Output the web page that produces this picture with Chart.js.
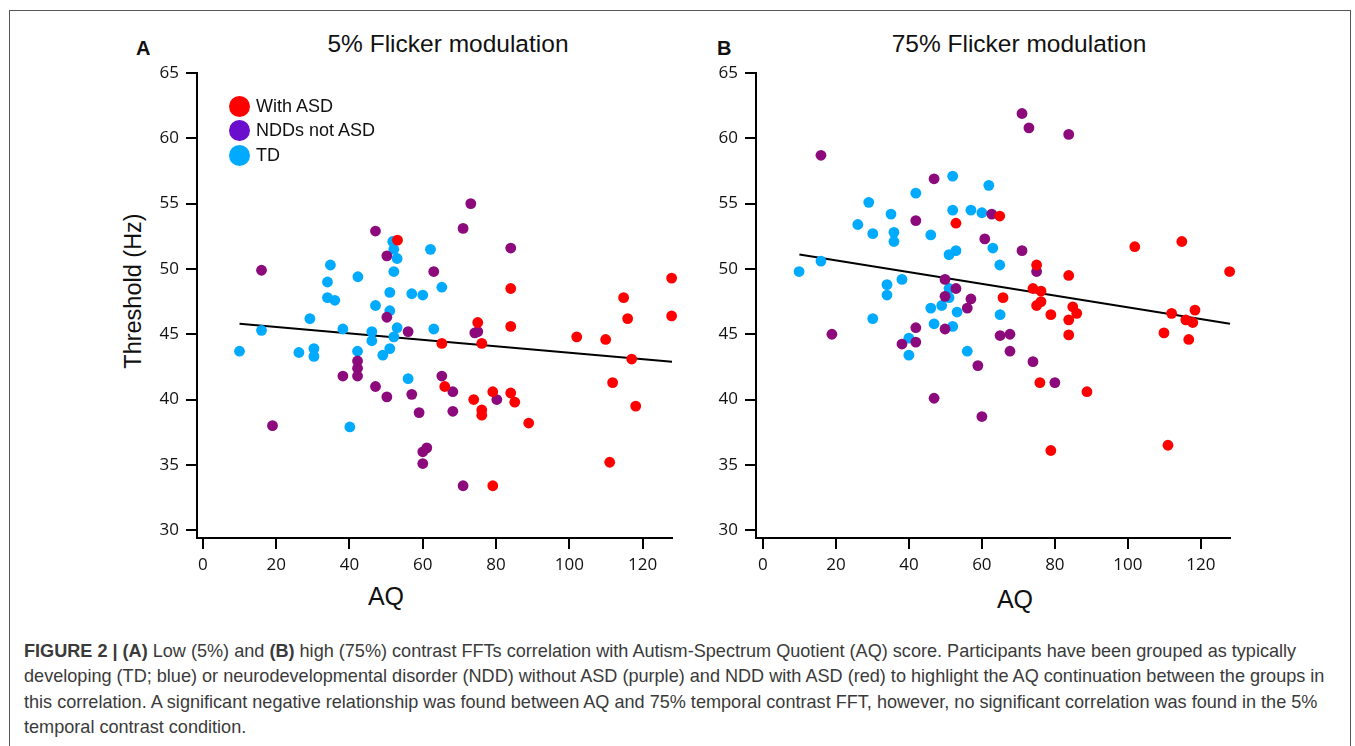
<!DOCTYPE html>
<html>
<head>
<meta charset="utf-8">
<script src="https://cdn.jsdelivr.net/npm/chart.js@4.4.1/dist/chart.umd.min.js"></script>
<style>
  body { margin: 0; width: 1355px; height: 746px; overflow: hidden; background: #fff; font-family: "Liberation Sans", Arial, sans-serif; }
  .frame { position: absolute; left: 9px; top: 10px; width: 1340px; height: 800px; border: 1px solid #555; }
  .box { position: absolute; width: 600px; height: 600px; }
  .txt { position: absolute; color: #111; white-space: nowrap; }
  .title { font-size: 24.5px; transform: translateX(-50%); }
  .letter { font-size: 20px; font-weight: bold; }
  .xtitle { font-size: 25px; transform: translateX(-50%); }
  .ytitle { font-size: 23.5px; transform: translate(-50%, -50%) rotate(-90deg); }
  .legend { position: absolute; left: 229px; top: 94px; font-size: 18px; color: #111; }
  .legend div { height: 24.5px; display: flex; align-items: center; }
  .legend span { display: inline-block; width: 21px; height: 21px; border-radius: 50%; margin-right: 6px; }
  .caption { position: absolute; left: 24px; top: 639px; font-size: 18.1px; line-height: 25.3px; color: #3a3a3a; white-space: nowrap; }
</style>
</head>
<body>
<div class="frame"></div>

<div class="txt letter" style="left:136px; top:37px;">A</div>
<div class="txt letter" style="left:717px; top:37px;">B</div>
<div class="txt title" style="left:448px; top:30px;">5% Flicker modulation</div>
<div class="txt title" style="left:1019px; top:30px;">75% Flicker modulation</div>
<div class="txt ytitle" style="left:133px; top:291px;">Threshold (Hz)</div>
<div class="txt xtitle" style="left:386px; top:582px;">AQ</div>
<div class="txt xtitle" style="left:1015px; top:585px;">AQ</div>

<div class="box" style="left:100px; top:20px;"><canvas id="chartA"></canvas></div>
<div class="box" style="left:660px; top:20px;"><canvas id="chartB"></canvas></div>

<div class="legend" id="legend"></div>

<div class="caption">
  <div><b>FIGURE 2 | (A)</b> Low (5%) and <b>(B)</b> high (75%) contrast FFTs correlation with Autism-Spectrum Quotient (AQ) score. Participants have been grouped as typically</div>
  <div>developing (TD; blue) or neurodevelopmental disorder (NDD) without ASD (purple) and NDD with ASD (red) to highlight the AQ continuation between the groups in</div>
  <div>this correlation. A significant negative relationship was found between AQ and 75% temporal contrast FFT, however, no significant correlation was found in the 5%</div>
  <div>temporal contrast condition.</div>
</div>

<script>
// axis ticks
const aqTicks = [0, 20, 40, 60, 80, 100, 120];
const hzTicks = [30, 35, 40, 45, 50, 55, 60, 65];

const groups = ["With ASD", "NDDs not ASD", "TD"];
const pointColors = ["#ff0000", "#8c0a7c", "#00aaff"];
const legendColors = ["#ff0000", "#6a0dcc", "#00aaff"];

// panel A - 5% flicker
const asdA_aq = [53.1, 84, 114.8, 127.9, 75, 84, 76.1, 65.2, 102, 109.9, 115.9, 127.9, 117, 111.8, 118.1, 111, 66, 73.9, 76.1, 76.1, 79.1, 84, 85.1, 88.9, 79.1];
const asdA_hz = [52.2, 48.5, 47.8, 49.3, 45.9, 45.6, 44.3, 44.3, 44.8, 44.6, 46.2, 46.4, 43.1, 41.3, 39.5, 35.2, 41.0, 40.0, 39.2, 38.8, 40.6, 40.5, 39.8, 38.2, 33.4];
const nddA_aq = [16, 19, 38.2, 42.2, 42.2, 42.2, 47.1, 50.2, 50.2, 56, 57, 59, 60, 61.1, 60, 65.2, 68.2, 68.2, 71, 74.2, 75, 47.1, 50.2, 63, 71, 73.1, 84, 80.2];
const nddA_hz = [49.9, 38.0, 41.8, 42.95, 42.4, 41.8, 41.0, 40.2, 46.3, 45.2, 40.4, 39.0, 36.0, 36.3, 35.1, 41.8, 40.6, 39.1, 33.4, 45.1, 45.2, 52.9, 51.0, 49.8, 53.1, 55.0, 51.6, 40.0];
const tdA_aq = [10, 16, 26.2, 29.2, 30.3, 30.3, 38.2, 40.1, 42.2, 34, 36, 34.8, 34, 42.3, 47.1, 51, 51, 51.8, 52.1, 53, 52.1, 57, 60, 62.1, 65.2, 46.1, 46.1, 49.1, 51, 53, 52.1, 56, 63];
const tdA_hz = [43.7, 45.3, 43.6, 46.2, 43.9, 43.3, 45.4, 37.9, 43.7, 47.8, 47.6, 50.3, 49.0, 49.4, 47.2, 48.2, 46.8, 52.1, 51.5, 50.8, 49.8, 48.1, 48.0, 51.5, 48.6, 45.2, 44.5, 43.4, 43.9, 45.5, 44.8, 41.6, 45.4];
const fitA_aq = [10, 128];
const fitA_hz = [45.8, 42.9];

// panel B - 75% flicker
const asdB_aq = [52.9, 64.9, 65.8, 75, 83.8, 101.9, 114.8, 127.9, 74, 76.2, 75, 76.2, 84.9, 78.9, 86, 83.8, 83.8, 75.9, 88.8, 78.9, 112, 118.4, 115.9, 117.8, 109.9, 116.7, 111];
const asdB_hz = [53.5, 54.05, 47.8, 50.3, 49.5, 51.7, 52.1, 49.8, 48.5, 48.3, 47.2, 47.5, 47.1, 46.5, 46.6, 46.1, 44.95, 41.3, 40.6, 36.1, 46.6, 46.85, 46.1, 45.9, 45.1, 44.6, 36.5];
const nddB_aq = [15.9, 46.9, 41.9, 62.7, 60.8, 49.9, 52.9, 49.9, 57, 56, 18.9, 41.9, 38.1, 41.9, 49.9, 65, 67.7, 67.7, 58.9, 46.9, 60, 71, 72.9, 83.8, 71, 75, 74, 80];
const nddB_hz = [58.7, 56.9, 53.7, 54.2, 52.3, 49.2, 48.5, 47.9, 47.7, 47.0, 45.0, 45.5, 44.25, 44.4, 45.4, 44.9, 45.0, 43.7, 42.6, 40.1, 38.7, 61.9, 60.8, 60.3, 51.4, 49.8, 42.9, 41.3];
const tdB_aq = [9.9, 15.9, 26, 29, 30.1, 35.1, 35.9, 35.9, 41.9, 46, 52, 52, 57, 60, 61.9, 51, 52.9, 63, 64.9, 38.1, 34, 34, 51, 51, 49, 46, 30.1, 40, 40, 46.9, 52, 53.2, 56, 65];
const tdB_hz = [49.8, 50.6, 53.4, 55.1, 52.7, 54.2, 52.8, 52.1, 55.8, 52.6, 57.1, 54.5, 54.5, 54.3, 56.4, 51.1, 51.4, 51.6, 50.3, 49.2, 48.8, 48.0, 48.5, 47.8, 47.2, 47.0, 46.2, 44.7, 43.4, 45.8, 45.6, 46.7, 43.7, 46.5];
const fitB_aq = [10, 128];
const fitB_hz = [51.1, 45.8];

const pts = (xs, ys) => xs.map((x, i) => ({ x: x, y: ys[i] }));

function makeChart(id, series, fit, xMin, yAxisWidth, padRight) {
  const datasets = series.map((s, i) => ({
    label: groups[i],
    data: pts(s[0], s[1]),
    backgroundColor: pointColors[i],
    borderWidth: 0,
    pointRadius: 5.4,
    clip: false,
    order: i,
  }));
  datasets.push({
    type: "line",
    label: "fit",
    data: pts(fit[0], fit[1]),
    borderColor: "#000",
    borderWidth: 2,
    pointRadius: 0,
    clip: false,
    order: 10,
  });

  const tickFont = { family: "'Open Sans', sans-serif", size: 17 };

  return new Chart(document.getElementById(id), {
    type: "scatter",
    data: { datasets: datasets },
    options: {
      responsive: true,
      maintainAspectRatio: false,
      animation: false,
      layout: { padding: { top: 53, right: padRight, left: 0, bottom: 0 } },
      plugins: { legend: { display: false }, tooltip: { enabled: false } },
      scales: {
        x: {
          type: "linear",
          min: xMin,
          max: 128,
          afterBuildTicks: scale => { scale.ticks = aqTicks.map(v => ({ value: v })); },
          afterFit: scale => { scale.height = 82; },
          grid: { drawOnChartArea: false, drawTicks: true, tickLength: 11, color: "#000", lineWidth: 2 },
          border: { display: true, color: "#000", width: 2 },
          ticks: { color: "#111", font: tickFont, padding: 6, maxRotation: 0 },
        },
        y: {
          type: "linear",
          min: 29.4,
          max: 65,
          afterBuildTicks: scale => { scale.ticks = hzTicks.map(v => ({ value: v })); },
          afterFit: scale => { scale.width = yAxisWidth; },
          grid: { drawOnChartArea: false, drawTicks: true, tickLength: 11, color: "#000", lineWidth: 2 },
          border: { display: true, color: "#000", width: 2 },
          ticks: { color: "#111", font: tickFont, padding: 7 },
        },
      },
    },
  });
}

makeChart("chartA", [[asdA_aq, asdA_hz], [nddA_aq, nddA_hz], [tdA_aq, tdA_hz]], [fitA_aq, fitA_hz], -1.6, 97, 28);
makeChart("chartB", [[asdB_aq, asdB_hz], [nddB_aq, nddB_hz], [tdB_aq, tdB_hz]], [fitB_aq, fitB_hz], -1.9, 96, 30);

// legend inside panel A
const legendEl = document.getElementById("legend");
groups.forEach((g, i) => {
  const row = document.createElement("div");
  row.innerHTML = '<span style="background:' + legendColors[i] + '"></span>' + g;
  legendEl.appendChild(row);
});
</script>
</body>
</html>
